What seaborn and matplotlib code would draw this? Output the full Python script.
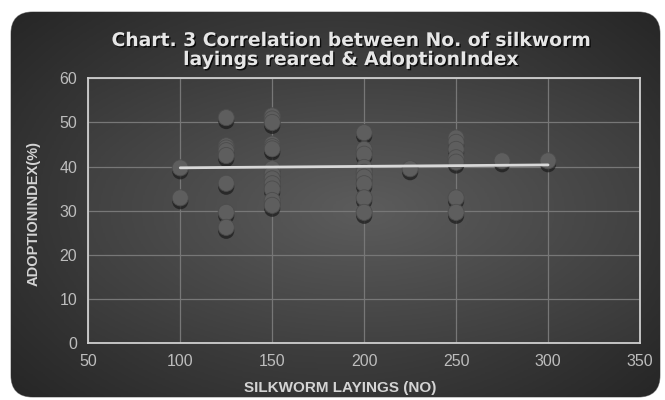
import numpy as np
import pandas as pd
import matplotlib
matplotlib.use('agg')
import matplotlib.pyplot as plt
import matplotlib.patheffects as pe
from matplotlib.patches import FancyBboxPatch
import seaborn as sns

# values (stacked markers hide a few duplicates)
layings = [100, 100,
           125, 125, 125, 125, 125, 125, 125, 125,
           150, 150, 150, 150, 150, 150, 150, 150, 150, 150, 150, 150, 150,
           200, 200, 200, 200, 200, 200, 200, 200, 200,
           225,
           250, 250, 250, 250, 250, 250, 250,
           275, 300]
adoption = [39.7, 32.9,
            51.1, 44.7, 44.2, 43.6, 42.5, 36.2, 29.6, 26.2,
            51.5, 50.8, 50.0, 45.1, 44.5, 44.0, 39.5, 38.3, 37.2, 36.1, 34.9, 32.3, 31.2,
            47.7, 43.9, 42.8, 39.8, 38.7, 37.6, 36.1, 32.9, 29.6,
            39.5,
            46.5, 45.5, 43.9, 42.0, 41.0, 32.9, 29.6,
            41.3, 41.3]
x_ticks = [50, 100, 150, 200, 250, 300, 350]
y_ticks = [0, 10, 20, 30, 40, 50, 60]
title = "Chart. 3 Correlation between No. of silkworm\nlayings reared & AdoptionIndex"
x_label = "SILKWORM LAYINGS (NO)"
y_label = "ADOPTIONINDEX(%)"

df = pd.DataFrame({"layings": layings, "adoption": adoption})

sns.set_style("dark")
plt.rcParams['font.family'] = ['Liberation Sans Narrow', 'Liberation Sans', 'DejaVu Sans']

fig = plt.figure(figsize=(6.65, 4.0), dpi=100, facecolor="white")

# rounded dark card with radial gradient
bg = fig.add_axes([0, 0, 1, 1], zorder=-2)
bg.set_xlim(0, 665)
bg.set_ylim(400, 0)
bg.axis("off")
card = FancyBboxPatch((11, 12), 649, 385, boxstyle="round,pad=0,rounding_size=22",
                      facecolor="#2e2e2e", edgecolor="#9a9a9a", linewidth=0.8)
bg.add_patch(card)
gx, gy = np.meshgrid(np.linspace(-1, 1, 300), np.linspace(-1, 1, 200))
r = np.sqrt(gx ** 2 + (gy * 0.9) ** 2)
grad = np.clip(1 - r / 1.35, 0, 1)
im = bg.imshow(grad, extent=(11, 660, 397, 12), cmap=sns.blend_palette(["#262626", "#555555"], as_cmap=True),
               vmin=0, vmax=1, aspect="auto", zorder=1)
im.set_clip_path(card)

ax = fig.add_axes([0.1328, 0.143, 0.8296, 0.661])
ax.set_facecolor("none")
# plot area gradient
pg = ax.imshow(np.clip(1 - np.sqrt(gx ** 2 + gy ** 2) / 1.5, 0, 1),
               extent=(50, 350, 0, 60), cmap=sns.blend_palette(["#353535", "#5c5c5c"], as_cmap=True),
               vmin=0, vmax=1, aspect="auto", zorder=0)

sns.regplot(data=df, x="layings", y="adoption", ax=ax, ci=None, truncate=True,
            scatter_kws=dict(s=135, color="#5e5e5e", edgecolor="#4c4c4c", linewidths=0.6, alpha=1, zorder=3,
                             path_effects=[pe.SimplePatchShadow(offset=(0, -2.5), shadow_rgbFace="#1a1a1a", alpha=0.7),
                                           pe.Normal()]),
            line_kws=dict(color="#d8d8d8", linewidth=2, zorder=4))

ax.set_xlim(50, 350)
ax.set_ylim(0, 60)
ax.set_xticks(x_ticks)
ax.set_yticks(y_ticks)
ax.grid(True, color="#777777", linewidth=0.9)
ax.set_axisbelow(True)
for s in ax.spines.values():
    s.set_visible(True)
    s.set_color("#cfcfcf")
    s.set_linewidth(1.3)
ax.tick_params(colors="#bdbdbd", labelsize=11.5, length=0, pad=8)
ax.set_xlabel(x_label, color="#d4d4d4", fontsize=11, fontweight="bold")
ax.set_ylabel(y_label, color="#d4d4d4", fontsize=10.5, fontweight="bold")
ax.xaxis.set_label_coords(0.457, -0.145)
ax.yaxis.set_label_coords(-0.087, 0.49)

fig.text(0.528, 0.875, title, ha="center", va="center", color="#e6e6e6", fontsize=13.5,
         fontweight="bold", linespacing=1.0, family=['DejaVu Sans'],
         path_effects=[pe.withSimplePatchShadow(offset=(1, -1), shadow_rgbFace="#000000", alpha=0.8)])

fig.savefig("out.png", dpi=100, facecolor="white")
